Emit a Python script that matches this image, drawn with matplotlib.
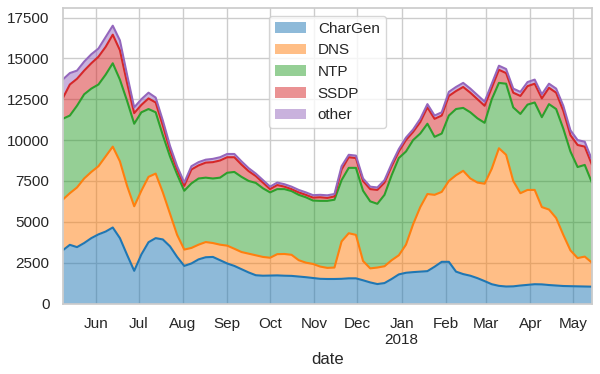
import numpy as np
import pandas as pd
import matplotlib
matplotlib.use("Agg")
import matplotlib.pyplot as plt
import matplotlib.dates as mdates
import seaborn as sns

dates = pd.date_range("2017-05-09", periods=75, freq="5D")

chargen = [3250, 3590, 3450, 3700, 4000, 4230, 4400, 4650, 4000, 2980,
           2000, 3000, 3750, 4000, 3920, 3500, 2850, 2300, 2450, 2700,
           2830, 2850, 2650, 2450, 2300, 2100, 1900, 1730, 1700, 1710,
           1720, 1700, 1690, 1650, 1610, 1560, 1510, 1500, 1500, 1510,
           1540, 1540, 1420, 1290, 1190, 1250, 1500, 1780, 1880, 1920,
           1950, 1980, 2250, 2550, 2550, 1950, 1800, 1700, 1550, 1370,
           1180, 1080, 1040, 1050, 1100, 1140, 1180, 1170, 1130, 1100,
           1070, 1060, 1050, 1040, 1030]
dns = [3100, 3160, 3650, 3950, 4050, 4170, 4600, 4950, 4700, 4220,
       3950, 3900, 4000, 3950, 2880, 2000, 1350, 1000, 950, 900,
       930, 850, 950, 1090, 1050, 1050, 1150, 1220, 1150, 1090,
       1300, 1330, 1290, 1000, 890, 860, 750, 680, 700, 2290,
       2760, 2660, 1180, 860, 1010, 1030, 1150, 1170, 1720, 2930,
       3950, 4720, 4400, 4280, 4950, 5900, 6320, 5950, 5850, 5960,
       7070, 8420, 8060, 6450, 5650, 5810, 5770, 4730, 4620, 4130,
       3130, 2190, 1730, 1830, 1470]
ntp = [4950, 4750, 5000, 5150, 5100, 5000, 5000, 5100, 5000, 5200,
       5050, 4800, 4150, 3750, 3500, 3500, 3700, 3600, 3950, 4050,
       3940, 3950, 4100, 4460, 4700, 4600, 4450, 4430, 4200, 4000,
       3980, 3970, 3900, 4000, 4000, 3880, 4020, 4100, 4150, 3750,
       4000, 4100, 4300, 4100, 3900, 4370, 5200, 5950, 5700, 5150,
       4500, 4300, 3550, 3570, 4000, 4050, 3850, 4050, 3930, 3725,
       4250, 4000, 4350, 4500, 4850, 5220, 5350, 5500, 6450, 6670,
       6500, 6050, 5570, 5610, 4900]
ssdp = [1250, 1900, 1650, 1450, 1550, 1700, 1700, 1750, 1800, 1100,
        650, 450, 650, 600, 600, 400, 300, 300, 850, 800,
        920, 1000, 1050, 950, 900, 750, 600, 420, 350, 200,
        250, 150, 120, 150, 150, 180, 220, 180, 200, 650,
        650, 600, 600, 750, 850, 750, 550, 400, 700, 500,
        700, 1000, 1100, 1100, 1200, 1100, 1280, 1200, 1170, 1045,
        700, 800, 650, 900, 1100, 1130, 1150, 1150, 1000, 1000,
        1100, 1000, 1350, 1120, 1100]
other = [1150, 700, 500, 550, 550, 500, 600, 550, 600, 500,
         350, 350, 350, 300, 300, 250, 200, 200, 200, 200,
         180, 200, 200, 200, 200, 200, 180, 150, 150, 150,
         150, 150, 150, 150, 150, 150, 150, 160, 150, 200,
         150, 150, 150, 150, 150, 150, 150, 150, 150, 150,
         200, 200, 200, 200, 250, 250, 250, 250, 250, 250,
         250, 250, 250, 250, 250, 250, 250, 250, 250, 250,
         300, 300, 300, 300, 300]

names = ["CharGen", "DNS", "NTP", "SSDP", "other"]
series = [chargen, dns, ntp, ssdp, other]
colors = ["#1f77b4", "#ff7f0e", "#2ca02c", "#d62728", "#9467bd"]

sns.set_theme(style="whitegrid", context="notebook")
plt.rcParams["font.family"] = ["Liberation Sans", "DejaVu Sans"]

fig = plt.figure(figsize=(6.0, 3.74), dpi=100)
ax = fig.add_axes([0.1045, 0.1885, 0.882, 0.79])

x = mdates.date2num(dates.to_pydatetime())
bottom = np.zeros(len(dates))
handles = []
for name, vals, c in zip(names, series, colors):
    top = bottom + np.array(vals, dtype=float)
    ax.plot(x, top, color=c, linewidth=1.5)
    ax.fill_between(x, bottom, top, color=c, alpha=0.5, linewidth=0)
    handles.append(plt.Rectangle((0, 0), 1, 1, facecolor=c, alpha=0.5, edgecolor=c, linewidth=0))
    bottom = top

ax.set_xlim(x[0], x[-1])
ax.set_ylim(0, 18080)
ax.set_yticks(np.arange(0, 17501, 2500))

month_starts = pd.date_range("2017-06-01", "2018-05-01", freq="MS")
labels = [d.strftime("%b") if d.month != 1 else d.strftime("%b\n%Y") for d in month_starts]
ax.set_xticks(mdates.date2num(month_starts.to_pydatetime()))
ax.set_xticklabels(labels)
ax.set_xlabel("date")
ax.tick_params(colors=".15")

ax.legend(handles, names, loc="upper center")
fig.savefig("out.png", dpi=100)
